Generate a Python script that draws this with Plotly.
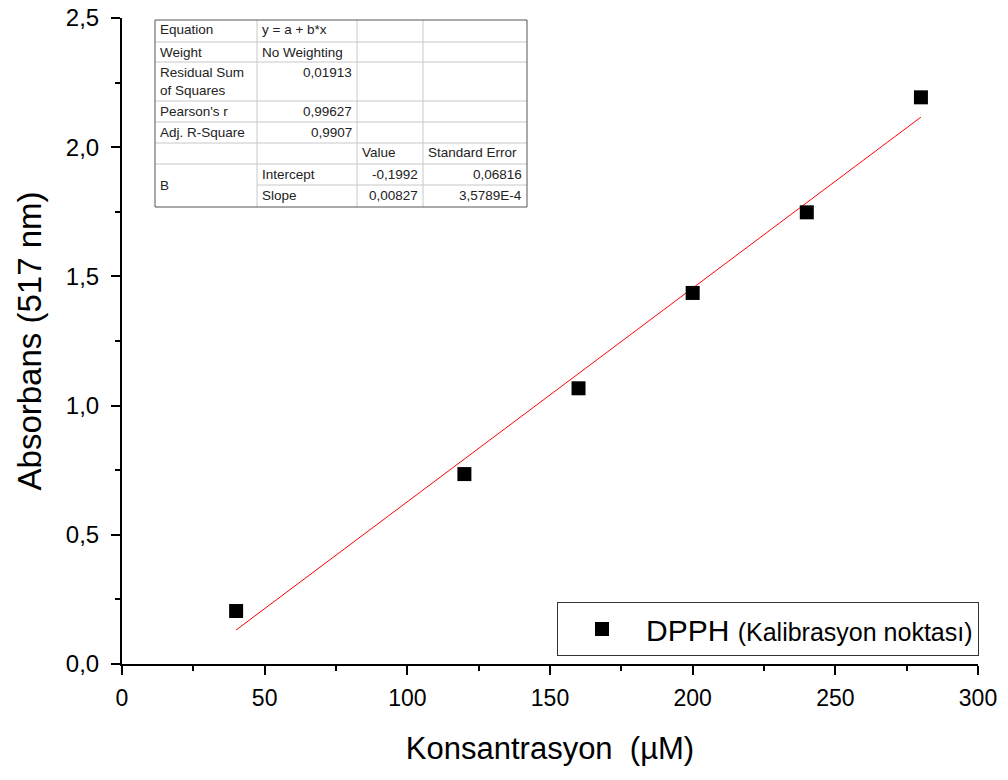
import plotly.graph_objects as go

# ---- data ----
conc = [40, 120, 160, 200, 240, 280]
absorb = [0.205, 0.735, 1.067, 1.436, 1.748, 2.193]
fit_x = [40, 280]
fit_y = [0.1316, 2.1164]

x_ticks = [0, 50, 100, 150, 200, 250, 300]
y_ticks = [0.0, 0.5, 1.0, 1.5, 2.0, 2.5]

table_rows = [
    ["Equation", "y = a + b*x", "", ""],
    ["Weight", "No Weighting", "", ""],
    ["Residual Sum<br>of Squares", "0,01913", "", ""],
    ["Pearson's r", "0,99627", "", ""],
    ["Adj. R-Square", "0,9907", "", ""],
    ["", "", "Value", "Standard Error"],
    ["B", "Intercept", "-0,1992", "0,06816"],
    ["", "Slope", "0,00827", "3,5789E-4"],
]

# body margin is removed by post_script, so figure starts at screen (0,0)
OFF = 0
W, H = 1008 - OFF, 780 - OFF
AX_L, AX_R, AX_T, AX_B = 122, 978, 18, 664  # plot area in screen pixels
L, T = AX_L - OFF, AX_T - OFF
R = W - (AX_R - OFF)
B = H - (AX_B - OFF)
PW, PH = AX_R - AX_L, AX_B - AX_T

def px(X):
    return (X - AX_L) / PW

def py(Y):
    return (AX_B - Y) / PH

FONT = "Liberation Sans, Arial, sans-serif"

fig = go.Figure()
fig.add_trace(go.Scatter(
    x=fit_x, y=fit_y, mode="lines",
    line=dict(color="red", width=1), showlegend=False, hoverinfo="skip"))
fig.add_trace(go.Scatter(
    x=conc, y=absorb, mode="markers",
    marker=dict(symbol="square", size=14, color="black"),
    name="DPPH <span style='font-size:25px'>(Kalibrasyon noktası)</span>"))

shapes = []
annotations = []

# table geometry (screen pixels)
cols = [155, 257, 357, 423, 527]
rows = [20, 42, 62, 101, 122, 143, 164, 185, 207]
grid = "#c8c8c8"
for yv in rows[1:-1]:
    x0 = cols[1] if yv == 185 else cols[0]
    shapes.append(dict(type="line", xref="paper", yref="paper",
                       x0=px(x0), x1=px(cols[-1]), y0=py(yv), y1=py(yv),
                       line=dict(color=grid, width=1)))
for xv in cols[1:-1]:
    shapes.append(dict(type="line", xref="paper", yref="paper",
                       x0=px(xv), x1=px(xv), y0=py(rows[0]), y1=py(rows[-1]),
                       line=dict(color=grid, width=1)))
shapes.append(dict(type="rect", xref="paper", yref="paper",
                   x0=px(cols[0]), x1=px(cols[-1]), y0=py(rows[0]), y1=py(rows[-1]),
                   line=dict(color="#555555", width=1), fillcolor="rgba(0,0,0,0)"))

TFS = 13.5
right_cols = {1: [2, 3, 4], 2: [6, 7], 3: [6, 7]}
for r, row in enumerate(table_rows):
    ytop = rows[r]
    for c, txt in enumerate(row):
        if not txt:
            continue
        if r == 6 and c == 0:
            yy = (rows[6] + rows[8]) / 2
        else:
            yy = ytop + 10
        right = (c in right_cols and r in right_cols[c])
        if right:
            xx, anchor = cols[c + 1] - 3, "right"
        else:
            xx, anchor = cols[c] + 3, "left"
        if r == 2:
            annotations.append(dict(x=px(xx), y=py(ytop + 1), xref="paper", yref="paper",
                                    text=txt, showarrow=False, xanchor=anchor, yanchor="top",
                                    align="left", font=dict(family=FONT, size=TFS, color="#222")))
        else:
            annotations.append(dict(x=px(xx), y=py(yy), xref="paper", yref="paper",
                                    text=txt, showarrow=False, xanchor=anchor, yanchor="middle",
                                    font=dict(family=FONT, size=TFS, color="#222")))

fig.update_layout(
    width=W, height=H,
    margin=dict(l=L, r=R, t=T, b=B, autoexpand=False),
    paper_bgcolor="white", plot_bgcolor="white",
    separators=", ",
    font=dict(family=FONT, color="black"),
    shapes=shapes, annotations=annotations,
    legend=dict(x=px(557), y=py(602), xanchor="left", yanchor="top",
                bgcolor="white", bordercolor="#333", borderwidth=1,
                font=dict(family=FONT, size=30, color="black"),
                itemwidth=78, tracegroupgap=0),
    xaxis=dict(range=[0, 300], tickvals=x_ticks, ticktext=[str(v) for v in x_ticks],
               automargin=False, ticklabeloverflow="allow",
               showgrid=False, zeroline=False, showline=True, linecolor="black", linewidth=2,
               ticks="outside", ticklen=9, tickwidth=2, tickcolor="black",
               tickfont=dict(family=FONT, size=23), ticklabelstandoff=3,
               minor=dict(dtick=25, ticks="outside", ticklen=5, tickwidth=2, tickcolor="black"),
               title=dict(text="Konsantrasyon  (µM)", font=dict(family=FONT, size=31), standoff=28)),
    yaxis=dict(range=[0, 2.5], tickvals=y_ticks, tickformat=".1f",
               automargin=False, ticklabeloverflow="allow",
               showgrid=False, zeroline=False, showline=True, linecolor="black", linewidth=2,
               ticks="outside", ticklen=9, tickwidth=2, tickcolor="black",
               tickfont=dict(family=FONT, size=24), ticklabelstandoff=7,
               minor=dict(dtick=0.25, ticks="outside", ticklen=5, tickwidth=2, tickcolor="black"),
               title=dict(text="Absorbans (517 nm)", font=dict(family=FONT, size=33), standoff=14)),
)

fig.write_html("out.html", config={"displayModeBar": False},
               post_script="document.body.style.margin='0';document.body.style.overflow='hidden';")
